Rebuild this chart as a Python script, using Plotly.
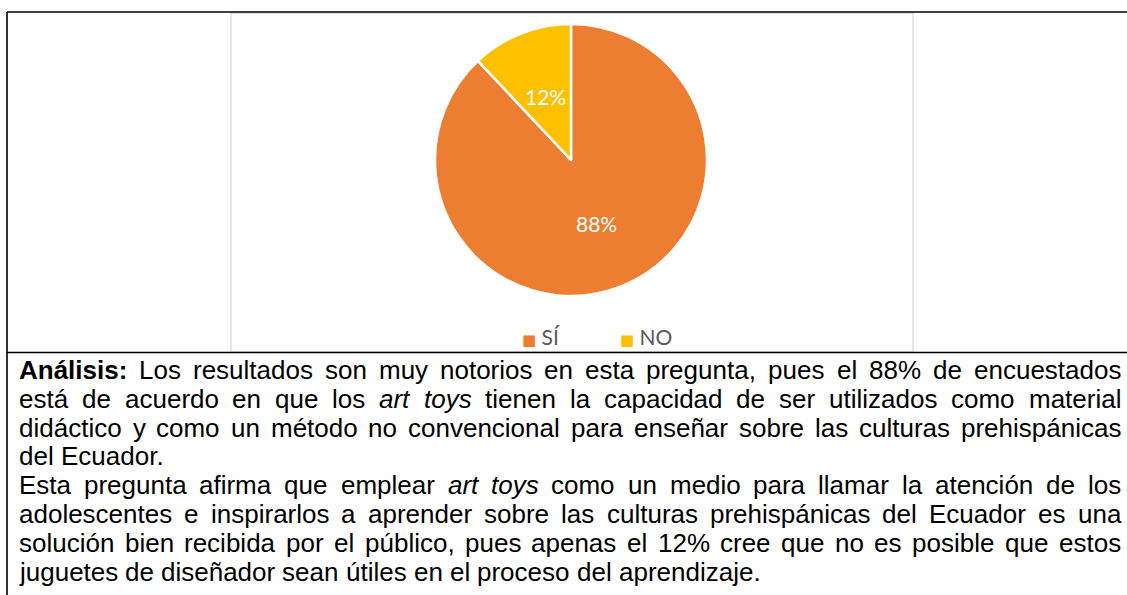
import math
import plotly.graph_objects as go

# ---------------- data ----------------
labels = ["SÍ", "NO"]
values = [88, 12]
slice_colors = ["#ED7D31", "#FFC000"]

text_lines = [
    "<b>Análisis:</b> Los resultados son muy notorios en esta pregunta, pues el 88% de encuestados",
    "está de acuerdo en que los <i>art</i> <i>toys</i> tienen la capacidad de ser utilizados como material",
    "didáctico y como un método no convencional para enseñar sobre las culturas prehispánicas",
    "del Ecuador.",
    "Esta pregunta afirma que emplear <i>art</i> <i>toys</i> como un medio para llamar la atención de los",
    "adolescentes e inspirarlos a aprender sobre las culturas prehispánicas del Ecuador es una",
    "solución bien recibida por el público, pues apenas el 12% cree que no es posible que estos",
    "juguetes de diseñador sean útiles en el proceso del aprendizaje.",
]
justified = [True, True, True, False, True, True, True, False]

# ---------------- layout helpers ----------------
W, H = 1127, 595
def px(x):
    return x / W
def py(y):
    return 1 - y / H

# Arial / Liberation Sans advance widths (per 1000 em)
REG = {" ": 278, "%": 889, ",": 278, ".": 278, ":": 278,
       "A": 667, "E": 667, "L": 556, "D": 722, "C": 722, "N": 722, "O": 778, "S": 667,
       "a": 556, "b": 556, "c": 500, "d": 556, "e": 556, "f": 278, "g": 556, "h": 556,
       "i": 222, "j": 222, "k": 500, "l": 222, "m": 833, "n": 556, "o": 556, "p": 556,
       "q": 556, "r": 333, "s": 500, "t": 278, "u": 556, "v": 500, "w": 722, "x": 500,
       "y": 500, "z": 500, "á": 556, "é": 556, "í": 278, "ó": 556, "ú": 556, "ñ": 556}
for d in "0123456789":
    REG[d] = 556
BOLD = {"A": 722, "n": 611, "á": 556, "l": 278, "i": 278, "s": 556, ":": 333}

FS = 26
TEXT_FONT = "Liberation Sans, Arial, sans-serif"
CHART_FONT = "Lato, Carlito, sans-serif"

def strip(word):
    for t in ("<b>", "</b>", "<i>", "</i>"):
        word = word.replace(t, "")
    return word

def word_width(word):
    table = BOLD if word.startswith("<b>") else REG
    return sum(table.get(ch, 556) for ch in strip(word)) * FS / 1000.0

# pie geometry (pixels)
CX, CY, R = 571, 160, 136

fig = go.Figure()
fig.add_trace(go.Pie(
    labels=labels, values=values, sort=False, direction="clockwise", rotation=0,
    marker=dict(colors=slice_colors, line=dict(color="white", width=2.5)),
    textinfo="none", showlegend=False,
    domain=dict(x=[px(CX - R), px(CX + R)], y=[py(CY + R), py(CY - R)]),
    hoverinfo="skip",
))

annotations = []

# percentage labels at half radius on each slice bisector (derived from the values)
total = float(sum(values))
cum = 0.0
for v in values:
    mid = (cum + v / 2.0) / total * 2 * math.pi
    cum += v
    lx = CX + 0.5 * R * math.sin(mid)
    ly = CY - 0.5 * R * math.cos(mid)
    annotations.append(dict(
        x=px(lx), y=py(ly), xref="paper", yref="paper", xanchor="center", yanchor="middle",
        showarrow=False, text=f"{round(v / total * 100)}%",
        font=dict(family=CHART_FONT, size=21, color="white"),
    ))

# legend built from labels / colours
LEG_X = [520, 618]
for lab, col, lxp in zip(labels, slice_colors, LEG_X):
    annotations.append(dict(
        x=px(lxp), y=py(336), xref="paper", yref="paper", xanchor="left", yanchor="middle",
        showarrow=False,
        text=f"<span style='color:{col};font-size:15px;font-family:DejaVu Sans'>■</span> {lab}",
        font=dict(family=CHART_FONT, size=21, color="#595959"),
    ))

# justified paragraph text
LEFT, RIGHT = 18, 1120
Y0, DY = 370, 28.8
for i, (line, just) in enumerate(zip(text_lines, justified)):
    words = line.split(" ")
    widths = [word_width(w) for w in words]
    if just and len(words) > 1:
        gap = (RIGHT - LEFT - sum(widths)) / (len(words) - 1)
    else:
        gap = REG[" "] * FS / 1000.0
    x = LEFT
    for w, wd in zip(words, widths):
        annotations.append(dict(
            x=px(x), y=py(Y0 + i * DY), xref="paper", yref="paper",
            xanchor="left", yanchor="middle", showarrow=False, text=w,
            font=dict(family=TEXT_FONT, size=FS, color="black"), borderpad=0,
        ))
        x += wd + gap

shapes = [
    dict(type="rect", xref="paper", yref="paper", x0=px(231), x1=px(913), y0=py(352), y1=py(13),
         line=dict(color="#D9D9D9", width=1.3), fillcolor="rgba(0,0,0,0)", layer="below"),
    dict(type="line", xref="paper", yref="paper", x0=px(7), x1=1.0, y0=py(12), y1=py(12),
         line=dict(color="black", width=1.6)),
    dict(type="line", xref="paper", yref="paper", x0=px(7), x1=1.0, y0=py(352.5), y1=py(352.5),
         line=dict(color="black", width=1.6)),
    dict(type="line", xref="paper", yref="paper", x0=px(7), x1=px(7), y0=py(12), y1=0.0,
         line=dict(color="black", width=1.6)),
]

fig.update_layout(
    width=W, height=H, margin=dict(l=0, r=0, t=0, b=0, pad=0),
    paper_bgcolor="white", plot_bgcolor="white",
    showlegend=False,
    annotations=annotations, shapes=shapes,
)

fig.write_html("out.html", config={"displayModeBar": False},
               post_script="document.body.style.margin='0';")
